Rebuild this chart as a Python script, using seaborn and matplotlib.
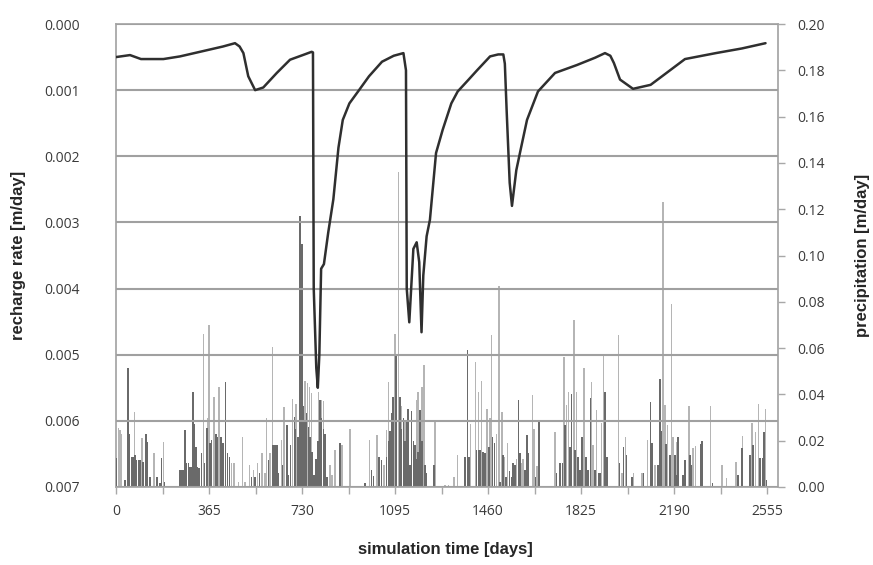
import matplotlib
matplotlib.use("Agg")
import matplotlib.pyplot as plt
import seaborn as sns
import pandas as pd

sns.set_theme(style="white")
plt.rcParams['font.family'] = ['Open Sans', 'DejaVu Sans']

# ---------------- data ----------------
recharge_day = [0, 55, 98, 186, 251, 330, 420, 467, 485, 500, 519, 546, 578, 631, 683, 740, 768, 773,
                776, 786, 792, 798, 805, 816, 833, 853, 873, 890, 916, 950, 993, 1044,
                1090, 1128, 1138, 1141, 1151, 1167, 1180, 1190, 1199, 1206, 1219, 1232, 1256,
                1282, 1316, 1341, 1384, 1417, 1468, 1500, 1520, 1526, 1533, 1545, 1554, 1571,
                1588, 1613, 1656, 1723, 1809, 1880, 1919, 1940, 1954, 1978, 2029, 2098, 2150, 2233,
                2354, 2456, 2549]
recharge_rate = [0.00050, 0.00047, 0.00053, 0.00053, 0.00049, 0.00042, 0.00034, 0.00029, 0.00034, 0.00044,
                 0.00079, 0.00100, 0.00096, 0.00074, 0.00054, 0.00046, 0.00042, 0.00043,
                 0.00400, 0.00520, 0.00550, 0.00500, 0.00370, 0.00363, 0.00315, 0.00265,
                 0.00187, 0.00145, 0.00120, 0.00102, 0.00079, 0.00057,
                 0.00048, 0.00044, 0.00070, 0.00400, 0.00451, 0.00340, 0.00330, 0.00360, 0.00466,
                 0.00380, 0.00321, 0.00296, 0.00195,
                 0.00160, 0.00120, 0.00102, 0.00084, 0.00070, 0.00049, 0.00046, 0.00046, 0.00060,
                 0.00130, 0.00240, 0.00275, 0.00221,
                 0.00190, 0.00145, 0.00102, 0.00074, 0.00062, 0.00051, 0.00044, 0.00048, 0.00059, 0.00084,
                 0.00098, 0.00092, 0.00077, 0.00053,
                 0.00044, 0.00037, 0.00029]

dark_day = [2, 35, 46, 52, 61, 68, 75, 81, 88, 94, 107, 118, 123, 133, 160, 173, 179, 190,
            251, 258, 264, 271, 277, 284, 290, 297, 301, 307, 314, 319, 327, 336, 347, 356,
            369, 375, 392, 398, 412, 421, 430, 437, 445,
            532, 545, 563, 598, 617, 624, 631, 637, 654, 670, 676, 685, 700, 704, 713, 722,
            731, 735, 742, 748, 755, 761, 768, 772, 778, 785, 794, 801, 807, 814, 820, 827,
            879,
            977, 1003, 1010, 1033, 1042, 1062, 1069, 1075, 1082, 1088, 1099, 1115, 1121,
            1128, 1134, 1141, 1147, 1154, 1160, 1167, 1173, 1180, 1186, 1193, 1200, 1213,
            1219, 1248,
            1370, 1380, 1386, 1415, 1422, 1428, 1441, 1447, 1463, 1478, 1485, 1507, 1520,
            1530, 1544, 1552, 1559, 1566, 1579, 1585, 1605, 1612, 1618, 1646, 1659,
            1729, 1742, 1752, 1762, 1781, 1788, 1801, 1814, 1821, 1830, 1844, 1853, 1862,
            1880, 1893, 1899, 1919, 1926,
            1976, 1991, 2004, 2024, 2070, 2098, 2104, 2128, 2134, 2141, 2158, 2173, 2193,
            2199, 2206, 2226, 2232, 2253, 2259, 2294, 2300, 2341,
            2442, 2456, 2488, 2501, 2527, 2537, 2543, 2553]
dark_prec = [0.0124, 0.0030, 0.0512, 0.0231, 0.0130, 0.0130, 0.0138, 0.0116, 0.0116, 0.0116,
             0.0109, 0.0231, 0.0195, 0.0045, 0.0045, 0.0016, 0.0124, 0.0023,
             0.0073, 0.0073, 0.0073, 0.0246, 0.0102, 0.0102, 0.0088, 0.0088, 0.0411, 0.0274,
             0.0174, 0.0088, 0.0080, 0.0145, 0.0102, 0.0253,
             0.0188, 0.0203, 0.0231, 0.0217, 0.0217, 0.0188, 0.0454, 0.0145, 0.0130,
             0.0045, 0.0045, 0.0059, 0.0116, 0.0181, 0.0181, 0.0181, 0.0059, 0.0095, 0.0267,
             0.0052, 0.0181, 0.0303, 0.0250, 0.0217, 0.1170,
             0.1050, 0.0350, 0.0280, 0.0318, 0.0260, 0.0217, 0.0150, 0.0052, 0.0052, 0.0120,
             0.0200, 0.0375, 0.0300, 0.0250, 0.0231, 0.0045,
             0.0188,
             0.0016, 0.0075, 0.0047, 0.0131, 0.0117, 0.0131, 0.0200, 0.0243, 0.0318, 0.0390,
             0.0576, 0.0390, 0.0250,
             0.0300, 0.0200, 0.0280, 0.0339, 0.0095, 0.0330, 0.0200, 0.0180, 0.0120, 0.0150,
             0.0334, 0.0200, 0.0095,
             0.0059, 0.0095,
             0.0130, 0.0590, 0.0130, 0.0160, 0.0160, 0.0160, 0.0150, 0.0145, 0.0174, 0.0217,
             0.0188, 0.0023, 0.0138,
             0.0045, 0.0067, 0.0045, 0.0102, 0.0095, 0.0375, 0.0145, 0.0073, 0.0224, 0.0145,
             0.0045, 0.0280,
             0.0059, 0.0102, 0.0102, 0.0267, 0.0174, 0.0403, 0.0160, 0.0130, 0.0073, 0.0217,
             0.0130, 0.0073, 0.0385,
             0.0073, 0.0059, 0.0060, 0.0410, 0.0130,
             0.0102, 0.0174, 0.0138, 0.0045, 0.0060, 0.0368, 0.0188, 0.0095, 0.0468, 0.0244,
             0.0184, 0.0138, 0.0138,
             0.0050, 0.0216, 0.0050, 0.0116, 0.0138, 0.0095, 0.0184, 0.0198, 0.0016,
             0.0050, 0.0167, 0.0138, 0.0180, 0.0124, 0.0124, 0.0238, 0.0031]

light_day = [9, 16, 22, 72, 101, 150, 186, 343, 360, 366, 385, 404, 454, 463, 480, 497, 506,
             523, 539, 555, 572, 585, 591, 604, 614, 650, 659, 693, 706, 742, 751, 759, 768,
             794, 807, 814, 840, 847, 860, 886, 918, 994, 1025, 1052, 1062, 1069, 1095, 1108,
             1121, 1134, 1180, 1186, 1200, 1209, 1252, 1291, 1304, 1327, 1340, 1392, 1411,
             1422, 1435, 1457, 1468, 1474, 1494, 1503, 1514, 1524, 1537, 1572, 1592, 1598,
             1634, 1640, 1652, 1723, 1758, 1768, 1775, 1797, 1807, 1836, 1866, 1873, 1886,
             1906, 1913, 1972, 1985, 2000, 2030, 2065, 2085, 2115, 2147, 2154, 2164, 2180,
             2186, 2200, 2249, 2265, 2275, 2334, 2379, 2396, 2433, 2459, 2497, 2510, 2521,
             2549]
light_prec = [0.0253, 0.0246, 0.0231, 0.0325, 0.0210, 0.0148, 0.0195, 0.0662, 0.0296, 0.0698,
              0.0390, 0.0430, 0.0102, 0.0102, 0.0023, 0.0217, 0.0023,
              0.0095, 0.0073, 0.0102, 0.0145, 0.0059, 0.0297, 0.0145, 0.0605, 0.0203, 0.0346,
              0.0382, 0.0359, 0.0460, 0.0450, 0.0430, 0.0404,
              0.0410, 0.0375, 0.0370, 0.0095, 0.0052, 0.0160, 0.0180, 0.0249, 0.0203, 0.0223,
              0.0095, 0.0246, 0.0454, 0.0662, 0.1360,
              0.0350, 0.0290, 0.0375, 0.0410, 0.0430, 0.0526, 0.0282, 0.0010, 0.0010, 0.0045,
              0.0138, 0.0274, 0.0540,
              0.0410, 0.0460, 0.0339, 0.0296, 0.0655, 0.0231, 0.0870, 0.0325, 0.0130, 0.0188,
              0.0120, 0.0102, 0.0120,
              0.0397, 0.0250, 0.0090, 0.0238, 0.0560, 0.0355, 0.0410, 0.0723, 0.0411, 0.0512,
              0.0453, 0.0181, 0.0332,
              0.0275, 0.0576, 0.0655, 0.0060, 0.0216, 0.0060, 0.0060, 0.0203, 0.0095, 0.1230,
              0.0353, 0.0267, 0.0790,
              0.0216, 0.0194, 0.0348, 0.0168, 0.0175, 0.0348, 0.0095, 0.0040, 0.0110, 0.0220,
              0.0275, 0.0238, 0.0360,
              0.0339]

x_ticks = [0, 365, 730, 1095, 1460, 1825, 2190, 2555]
x_minor = [182.5, 547.5, 912.5, 1277.5, 1642.5, 2007.5, 2372.5]
left_ticks = [0.000, 0.001, 0.002, 0.003, 0.004, 0.005, 0.006, 0.007]
right_ticks = [0.00, 0.02, 0.04, 0.06, 0.08, 0.10, 0.12, 0.14, 0.16, 0.18, 0.20]

# ---------------- figure ----------------
W, H = 873, 565
fig = plt.figure(figsize=(W / 100, H / 100), dpi=100)
L, R, T, B = 116, 778, 24, 487
axp = fig.add_axes([L / W, 1 - B / H, (R - L) / W, (B - T) / H])
axr = axp.twinx()

spine_col = '#a8a8a8'
txt_col = '#3a3a3a'
grid_col = '#a0a0a0'

# precipitation bars (right axis)
axp.bar(light_day, light_prec, width=6.0, color='#b5b5b5', linewidth=0, zorder=2)
axp.bar(dark_day, dark_prec, width=6.5, color='#6a6a6a', linewidth=0, zorder=3)
axp.set_xlim(0, 2598)
axp.set_ylim(0, 0.20)
axp.yaxis.tick_right()
axp.yaxis.set_label_position('right')
axp.set_yticks(right_ticks)
axp.set_yticklabels([f"{v:.2f}" for v in right_ticks])
axp.set_xticks(x_ticks)
axp.set_xticklabels([str(v) for v in x_ticks])
axp.set_xticks(x_minor, minor=True)
axp.tick_params(axis='y', which='both', direction='out', length=5, width=1,
                color=spine_col, labelcolor=txt_col, labelsize=10, pad=9,
                right=True, left=False)
axp.tick_params(axis='x', which='both', direction='out', length=5, width=1,
                color=spine_col, labelcolor=txt_col, labelsize=10, pad=7, bottom=True)
for s in axp.spines.values():
    s.set_color(spine_col)
    s.set_linewidth(1.3)
axp.set_ylabel("precipitation [m/day]", fontsize=12, fontweight='bold',
               family=['Liberation Sans', 'DejaVu Sans'], color='#262626', va='center')
axp.yaxis.set_label_coords(1.127, 0.5)
axp.set_xlabel("simulation time [days]", fontsize=12, fontweight='bold',
               family=['Liberation Sans', 'DejaVu Sans'], color='#262626', va='center')
axp.xaxis.set_label_coords(0.497, -0.136)

# recharge line (left axis, inverted)
df = pd.DataFrame({"day": recharge_day, "rate": recharge_rate})
sns.lineplot(data=df, x="day", y="rate", ax=axr, color='#2f2f2f', linewidth=1.8,
             sort=False, zorder=5)
axr.set_ylim(0.007, 0.0)
axr.yaxis.tick_left()
axr.yaxis.set_label_position('left')
axr.set_yticks(left_ticks)
axr.set_yticklabels([f"{v:.3f}" for v in left_ticks])
axr.tick_params(axis='y', length=0, labelcolor=txt_col, labelsize=10, pad=26,
                left=True, right=False)
axr.grid(axis='y', color=grid_col, linewidth=1.5, zorder=4)
axr.set_axisbelow(False)
for s in axr.spines.values():
    s.set_visible(False)
axr.set_ylabel("recharge rate [m/day]", fontsize=12, fontweight='bold',
               family=['Liberation Sans', 'DejaVu Sans'], color='#262626', va='center')
axr.yaxis.set_label_coords(-0.148, 0.5)
axr.set_xlabel("")
axr.set_xlim(0, 2598)

fig.savefig("out.png", dpi=100, facecolor='white')
